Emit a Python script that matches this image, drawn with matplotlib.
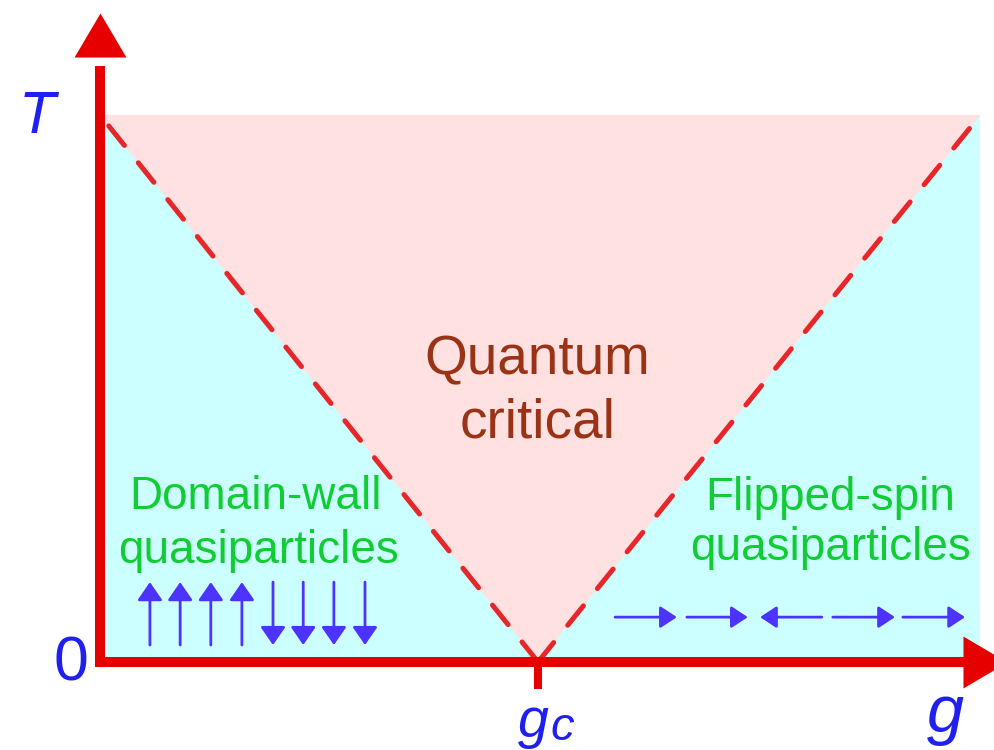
import matplotlib.pyplot as plt
import numpy as np

plt.rcParams['lines.scale_dashes'] = False

# phase diagram (g in units of g_c, T in units of the top of the drawn region)
g_c = 1.0
g_max = 2.01
T_max = 1.0

# spin pictures
left_spin_g = [0.114, 0.183, 0.253, 0.324, 0.395, 0.464, 0.534, 0.605]
left_spin_dir = [1, 1, 1, 1, -1, -1, -1, -1]
left_spin_T = (0.031, 0.146)
right_spin_start = [1.176, 1.340, 1.648, 1.673, 1.833]
right_spin_end = [1.317, 1.479, 1.507, 1.815, 1.975]
right_spin_T = 0.082

RED = '#e60000'
DASH_RED = '#e8262a'
PINK = '#ffe1e1'
CYAN = '#ccffff'
GREEN = '#11cc33'
BROWN = '#9a3316'
BLUE = '#2020ee'
SPIN = '#4d33ff'
FONT = 'Liberation Sans'

fig = plt.figure(figsize=(9.94, 7.5), dpi=100)
ax = fig.add_axes([0, 0, 1, 1])
ax.set_xlim(-0.2283, 2.0411)
ax.set_ylim(-0.1609, 1.2102)
ax.axis('off')

# regions
ax.fill([0, g_max, g_max, 0], [0, 0, T_max, T_max], color=CYAN, lw=0, zorder=1)
ax.fill([0, g_max, g_c], [T_max, T_max, 0], color=PINK, lw=0, zorder=2)

# crossover lines
ax.plot([0.02, g_c], [T_max - 0.02, 0], color=DASH_RED, lw=3.6,
        dashes=(18, 16), dash_capstyle='round', zorder=3)
ax.plot([g_c, g_max - 0.02], [0, T_max - 0.02], color=DASH_RED, lw=3.6,
        dashes=(18, 16), dash_capstyle='round', zorder=3)

# axes arrows
ax.plot([0, 0], [-0.009, 1.09], color=RED, lw=7.2, solid_capstyle='butt', zorder=4)
ax.plot([-0.011, 2.0], [0, 0], color=RED, lw=7.2, solid_capstyle='butt', zorder=4)
ax.plot([0], [1.186], marker=[(0, 0), (-0.59, -1), (0.59, -1)], ms=63.4,
        color=RED, mew=0, zorder=4)
ax.plot([2.071], [0], marker=[(0, 0), (-1, 0.59), (-1, -0.59)], ms=63.4,
        color=RED, mew=0, zorder=4)
ax.plot([g_c, g_c], [0, -0.05], color=RED, lw=5.8, solid_capstyle='butt', zorder=4)

# spin arrows
arrow_kw = dict(arrowstyle='-|>,head_length=0.55,head_width=0.38',
                color=SPIN, lw=2.0, shrinkA=0, shrinkB=0, mutation_scale=20)
for g, d in zip(left_spin_g, left_spin_dir):
    lo, hi = left_spin_T
    start, end = (lo, hi) if d > 0 else (hi, lo)
    ax.annotate('', xy=(g, end), xytext=(g, start), arrowprops=arrow_kw, zorder=5)
for g0, g1 in zip(right_spin_start, right_spin_end):
    ax.annotate('', xy=(g1, right_spin_T), xytext=(g0, right_spin_T),
                arrowprops=dict(arrow_kw, arrowstyle='-|>,head_length=0.5,head_width=0.33'),
                zorder=5)

# region labels
ax.text(0.999, 0.525, 'Quantum', color=BROWN, fontsize=39.5, family=FONT,
        ha='center', va='baseline', zorder=6)
ax.text(0.999, 0.411, 'critical', color=BROWN, fontsize=39.5, family=FONT,
        ha='center', va='baseline', zorder=6)
ax.text(0.356, 0.280, 'Domain-wall', color=GREEN, fontsize=33, family=FONT,
        ha='center', va='baseline', zorder=6)
ax.text(0.363, 0.181, 'quasiparticles', color=GREEN, fontsize=33, family=FONT,
        ha='center', va='baseline', zorder=6)
ax.text(1.667, 0.278, 'Flipped-spin', color=GREEN, fontsize=33, family=FONT,
        ha='center', va='baseline', zorder=6)
ax.text(1.667, 0.186, 'quasiparticles', color=GREEN, fontsize=33, family=FONT,
        ha='center', va='baseline', zorder=6)

# axis labels
ax.text(-0.145, 0.967, 'T', color=BLUE, fontsize=43, family=FONT, style='italic',
        ha='center', va='baseline')
ax.text(-0.0674, -0.033, '0', color=BLUE, fontsize=45, family=FONT,
        ha='center', va='baseline')
ax.text(0.989, -0.137, 'g', color=BLUE, fontsize=40, family=FONT, style='italic',
        ha='center', va='baseline')
ax.text(1.055, -0.143, 'c', color=BLUE, fontsize=34, family=FONT, style='italic',
        ha='center', va='baseline')
ax.text(1.929, -0.128, 'g', color=BLUE, fontsize=48, family=FONT, style='italic',
        ha='center', va='baseline')

fig.savefig('out.png', dpi=100)
